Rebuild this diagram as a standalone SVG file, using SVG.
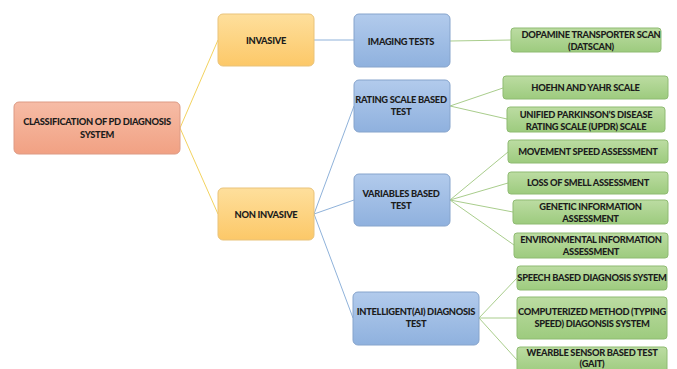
<svg xmlns="http://www.w3.org/2000/svg" width="677" height="369" viewBox="0 0 677 369">
  <defs>
    <linearGradient id="gRoot" x1="0" y1="0" x2="0" y2="1">
      <stop offset="0" stop-color="#f6bca6"/>
      <stop offset="1" stop-color="#f1a183"/>
    </linearGradient>
    <linearGradient id="gGold" x1="0" y1="0" x2="0" y2="1">
      <stop offset="0" stop-color="#fedf9c"/>
      <stop offset="1" stop-color="#fcc868"/>
    </linearGradient>
    <linearGradient id="gBlue" x1="0" y1="0" x2="0" y2="1">
      <stop offset="0" stop-color="#b2cbec"/>
      <stop offset="1" stop-color="#8fb1de"/>
    </linearGradient>
    <linearGradient id="gGreen" x1="0" y1="0" x2="0" y2="1">
      <stop offset="0" stop-color="#bcdca2"/>
      <stop offset="1" stop-color="#9dcb7e"/>
    </linearGradient>
  </defs>
  <style>
    .root { fill: url(#gRoot); stroke: #dd9a84; stroke-width: 1; }
    .gold { fill: url(#gGold); stroke: #e9c37a; stroke-width: 1; }
    .blue { fill: url(#gBlue); stroke: #86a4cc; stroke-width: 1; }
    .green { fill: url(#gGreen); stroke: #8fbb72; stroke-width: 1; }
    text { font-family: Lato, "Open Sans", "Liberation Sans", sans-serif; font-weight: 900; font-size: 9.3px; fill: #1c1c1c; text-anchor: middle; letter-spacing: -0.3px; }
    .c1 { stroke: #f3d360; stroke-width: 1; fill: none; }
    .c2 { stroke: #8fb2da; stroke-width: 1; fill: none; }
    .c3 { stroke: #a9cd8c; stroke-width: 1; fill: none; }
  </style>

  <!-- connectors -->
  <g id="connectors">
    <line class="c1" x1="180" y1="128" x2="218" y2="40"/>
    <line class="c1" x1="180" y1="128" x2="218" y2="214"/>
    <line class="c2" x1="314" y1="40" x2="354" y2="40"/>
    <line class="c2" x1="314" y1="214" x2="354" y2="106"/>
    <line class="c2" x1="314" y1="214" x2="354" y2="200"/>
    <line class="c2" x1="314" y1="214" x2="353" y2="318"/>
    <line class="c3" x1="450" y1="41" x2="511" y2="40"/>
    <line class="c3" x1="450" y1="106" x2="503" y2="88"/>
    <line class="c3" x1="450" y1="106" x2="507" y2="119"/>
    <line class="c3" x1="450" y1="200" x2="508" y2="152"/>
    <line class="c3" x1="450" y1="200" x2="508" y2="183"/>
    <line class="c3" x1="450" y1="200" x2="513" y2="212"/>
    <line class="c3" x1="450" y1="200" x2="514" y2="245"/>
    <line class="c3" x1="479" y1="318" x2="517" y2="278"/>
    <line class="c3" x1="479" y1="318" x2="517" y2="318"/>
    <line class="c3" x1="479" y1="318" x2="517" y2="360"/>
  </g>

  <!-- level 0 -->
  <g id="root">
    <rect class="root" x="14" y="102" width="166" height="52" rx="5"/>
    <text x="97" y="125">CLASSIFICATION OF PD DIAGNOSIS</text>
    <text x="97" y="138">SYSTEM</text>
  </g>

  <!-- level 1 -->
  <g id="invasive">
    <rect class="gold" x="218" y="14" width="96" height="52" rx="5"/>
    <text x="266" y="44">INVASIVE</text>
  </g>
  <g id="non-invasive">
    <rect class="gold" x="218" y="188" width="96" height="52" rx="5"/>
    <text x="266" y="218">NON INVASIVE</text>
  </g>

  <!-- level 2 -->
  <g id="imaging">
    <rect class="blue" x="354" y="14" width="96" height="53" rx="5"/>
    <text x="401" y="45">IMAGING TESTS</text>
  </g>
  <g id="rating">
    <rect class="blue" x="354" y="80" width="96" height="52" rx="5"/>
    <text x="401" y="103">RATING SCALE BASED</text>
    <text x="401" y="115">TEST</text>
  </g>
  <g id="variables">
    <rect class="blue" x="354" y="174" width="96" height="52" rx="5"/>
    <text x="401" y="197">VARIABLES BASED</text>
    <text x="401" y="209">TEST</text>
  </g>
  <g id="intelligent">
    <rect class="blue" x="353" y="292" width="126" height="53" rx="5"/>
    <text x="416" y="315">INTELLIGENT(AI) DIAGNOSIS</text>
    <text x="416" y="327">TEST</text>
  </g>

  <!-- level 3 -->
  <g id="datscan">
    <rect class="green" x="511" y="28" width="150" height="24" rx="3"/>
    <text x="591" y="38">DOPAMINE TRANSPORTER SCAN</text>
    <text x="591" y="50">(DATSCAN)</text>
  </g>
  <g id="hoehn">
    <rect class="green" x="503" y="76" width="165" height="23" rx="3"/>
    <text x="585.5" y="91">HOEHN AND YAHR SCALE</text>
  </g>
  <g id="updrs">
    <rect class="green" x="507" y="107" width="158" height="25" rx="3"/>
    <text x="586" y="118">UNIFIED PARKINSON’S DISEASE</text>
    <text x="586" y="130">RATING SCALE (UPDR) SCALE</text>
  </g>
  <g id="movement">
    <rect class="green" x="508" y="140" width="160" height="23" rx="3"/>
    <text x="588" y="155">MOVEMENT SPEED ASSESSMENT</text>
  </g>
  <g id="smell">
    <rect class="green" x="508" y="172" width="160" height="22" rx="3"/>
    <text x="588" y="186">LOSS OF SMELL ASSESSMENT</text>
  </g>
  <g id="genetic">
    <rect class="green" x="513" y="200" width="155" height="24" rx="3"/>
    <text x="590.5" y="210">GENETIC INFORMATION</text>
    <text x="590.5" y="222">ASSESSMENT</text>
  </g>
  <g id="environmental">
    <rect class="green" x="514" y="233" width="154" height="25" rx="3"/>
    <text x="591" y="243">ENVIRONMENTAL INFORMATION</text>
    <text x="591" y="255">ASSESSMENT</text>
  </g>
  <g id="speech">
    <rect class="green" x="517" y="266" width="150" height="24" rx="3"/>
    <text x="592" y="281">SPEECH BASED DIAGNOSIS SYSTEM</text>
  </g>
  <g id="computerized">
    <rect class="green" x="517" y="297" width="150" height="42" rx="3"/>
    <text x="592" y="315">COMPUTERIZED METHOD (TYPING</text>
    <text x="592" y="327">SPEED) DIAGONSIS SYSTEM</text>
  </g>
  <g id="wearable">
    <rect class="green" x="517" y="347" width="150" height="26" rx="3"/>
    <text x="592" y="356">WEARBLE SENSOR BASED TEST</text>
    <text x="592" y="367">(GAIT)</text>
  </g>
</svg>
